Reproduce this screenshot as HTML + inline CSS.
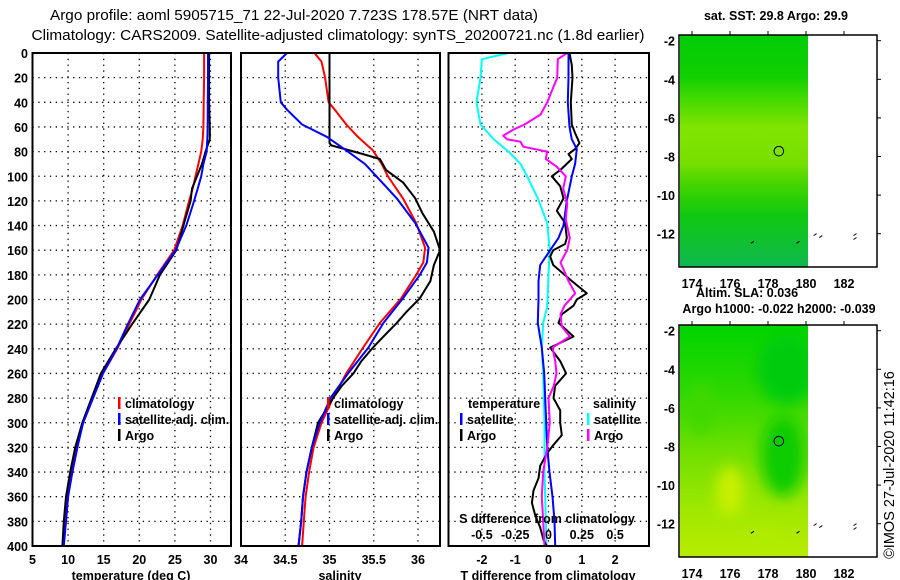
<!DOCTYPE html>
<html><head><meta charset="utf-8"><style>
html,body{margin:0;padding:0;background:#fff;}
svg{display:block;font-family:"Liberation Sans",sans-serif;}
.b{font-weight:bold;font-size:12.5px;}
.n{font-size:14.5px;}
</style></head><body>
<svg id="s" width="900" height="580" viewBox="0 0 900 580" xmlns="http://www.w3.org/2000/svg">
<defs>
<linearGradient id="g1" x1="0" y1="0" x2="0" y2="1">
<stop offset="0" stop-color="#00cc08"/><stop offset="0.18" stop-color="#10d000"/>
<stop offset="0.3" stop-color="#50dc00"/><stop offset="0.4" stop-color="#80e400"/>
<stop offset="0.55" stop-color="#78e000"/><stop offset="0.65" stop-color="#40d400"/>
<stop offset="0.78" stop-color="#10c810"/><stop offset="1" stop-color="#10b850"/>
</linearGradient>
<linearGradient id="g2" x1="0" y1="0" x2="0" y2="1">
<stop offset="0" stop-color="#00d400"/><stop offset="0.3" stop-color="#30d800"/>
<stop offset="0.55" stop-color="#70e000"/><stop offset="0.8" stop-color="#a0e800"/>
<stop offset="1" stop-color="#b8ec00"/>
</linearGradient>
<filter id="bl"><feGaussianBlur stdDeviation="7"/></filter>
<clipPath id="c1"><rect x="680" y="35" width="128" height="232"/></clipPath>
<clipPath id="c2"><rect x="680" y="325" width="128" height="232"/></clipPath>
</defs>
<g id="root"></g>
</svg>
<script>
// ---- data ----
const tDepth=[0,20,40,60,70,80,90,100,110,120,140,160,180,200,220,240,260,280,300,320,340,360,380,400];
const tClim=[29.1,29.1,29.05,29.0,28.9,28.7,28.3,27.9,27.5,27.0,26.1,24.9,22.5,20.3,18.6,16.9,14.9,13.5,12.1,11.2,10.5,9.9,9.6,9.3];
const tSat=[29.65,29.65,29.62,29.6,29.55,29.45,29.0,28.7,28.2,27.7,26.6,25.1,22.6,20.1,18.4,16.8,14.9,13.5,12.1,11.3,10.6,10.0,9.7,9.4];
const tArgo=[29.8,29.8,29.8,29.9,29.9,29.3,28.8,28.1,27.4,27.2,26.2,25.2,22.9,21.4,19.0,16.7,14.6,13.3,12.0,11.0,10.3,9.7,9.4,9.2];
const sDepth=[0,7,20,40,46,58,68,79,90,100,118,138,158,170,180,199,219,239,260,280,300,320,340,360,380,400];
const sClim=[34.83,34.91,34.95,34.99,35.06,35.19,35.32,35.49,35.59,35.66,35.83,35.98,36.08,36.06,35.98,35.81,35.57,35.38,35.19,35.04,34.91,34.82,34.77,34.73,34.71,34.69];
const sSat=[34.52,34.42,34.42,34.45,34.52,34.69,34.97,35.19,35.40,35.53,35.76,35.97,36.12,36.10,36.02,35.83,35.61,35.44,35.21,35.01,34.89,34.80,34.74,34.70,34.68,34.65];
const sArgoDepth=[0,73,75,82,86,95,105,118,130,145,160,172,185,199,210,219,230,239,250,260,270,280,300,320,340,360,380,400];
const sArgo=[35.0,35.0,35.02,35.38,35.57,35.64,35.83,35.97,36.05,36.18,36.25,36.18,36.14,36.02,35.87,35.76,35.61,35.49,35.36,35.27,35.14,35.04,34.87,34.80,34.74,34.70,34.68,34.65];
const dtSatDepth=[0,20,40,60,70,78,90,100,120,140,150,160,172,185,200,219,239,260,280,300,320,340,360,380,400];
const dtSat=[0.6,0.6,0.58,0.63,0.7,0.85,0.8,0.7,0.55,0.45,0.3,0.05,-0.25,-0.3,-0.3,-0.32,-0.2,-0.13,-0.1,-0.07,-0.04,0.03,0.12,0.18,0.2];
const dtArgoDepth=[0,10,20,40,58,65,73,78,82,86,95,100,108,118,128,138,150,155,160,165,172,185,195,200,205,212,219,230,239,250,260,270,280,290,300,310,318,325,335,345,355,365,375,385,395,400];
const dtArgo=[0.63,0.7,0.72,0.67,0.7,0.8,0.93,0.8,0.6,0.7,0.35,0.1,0.35,0.45,0.25,0.5,0.55,0.5,0.14,0.05,0.14,0.7,1.15,0.85,0.75,0.4,0.3,0.75,0.05,0.35,0.53,0.2,0.15,0.35,0.35,0.4,0.15,-0.05,-0.25,-0.3,-0.45,-0.5,-0.4,-0.25,-0.15,-0.05];
const dsSatDepth=[0,5,20,40,58,70,80,90,100,118,138,160,180,206,219,240,260,280,300,320,340,360,380,400];
const dsSat=[-0.3,-0.5,-0.51,-0.54,-0.51,-0.41,-0.3,-0.21,-0.16,-0.08,-0.01,0.01,0.0,-0.01,-0.04,-0.05,-0.04,-0.035,-0.03,-0.03,-0.03,-0.025,-0.02,-0.015];
const dsArgoDepth=[0,5,20,40,50,58,62,67,70,72,76,80,86,92,100,110,122,135,150,160,170,185,195,205,212,222,230,239,250,260,270,280,300,320,340,360,380,400];
const dsArgo=[0.14,0.07,0.065,-0.01,-0.06,-0.18,-0.26,-0.34,-0.31,-0.21,-0.19,-0.01,-0.02,0.06,0.13,0.11,0.14,0.13,0.16,0.14,0.09,0.15,0.2,0.12,0.09,0.1,0.16,0.03,0.05,0.06,0.04,0.0,0.01,-0.01,-0.04,-0.05,-0.04,-0.03];
const depthTicks=[0,20,40,60,80,100,120,140,160,180,200,220,240,260,280,300,320,340,360,380,400];
const tTicks=[5,10,15,20,25,30];
const sTicks=[34,34.5,35,35.5,36];
const dTicks=[-2,-1,0,1,2];
const dsTickLabels=["-0.5","-0.25","0","0.25","0.5"];
const lonTicks=[174,176,178,180,182];
const latTicks=[-2,-4,-6,-8,-10,-12];
const argoLon=178.57, argoLat=-7.723;

// ---- scales ----
const yD=d=>53+d*1.2325;
const xT=t=>32.5+(t-5)*7.12;
const xS=s=>241+(s-34)*88.5;
const xDT=t=>548.5+t*33.3;
const xDS=s=>548.5+s*133.3;
const mX=lon=>692+(lon-174)*19;
const mY=(lat,off)=>off+40.7+(-2-lat)*19.3;

const NS='http://www.w3.org/2000/svg';
const root=document.getElementById('root');
function mk(tag,attrs,parent){const e=document.createElementNS(NS,tag);for(const k in attrs)e.setAttribute(k,attrs[k]);(parent||root).appendChild(e);return e;}
function txt(x,y,s,anchor,cls,extra){const e=mk('text',Object.assign({x:x,y:y,'text-anchor':anchor||'start','class':cls||'b'},extra||{}));e.textContent=s;return e;}

const panels=[[32.5,231,'temperature-panel'],[241,440,'salinity-panel'],[448.5,649,'difference-panel']];
panels.forEach(p=>{
  const g=mk('g',{});
  
  
  depthTicks.forEach(d=>{ if(d>0&&d<400){const l=mk('line',{x1:p[0],x2:p[1],y1:yD(d),y2:yD(d),stroke:'#000','stroke-width':1.3,'stroke-dasharray':'1.3,4.5'},g);
    
    }});
});
function vgrid(vals,fx,y0,y1,name){vals.forEach(v=>{const x=fx(v);const l=mk('line',{x1:x,x2:x,y1:y0,y2:y1,stroke:'#000','stroke-width':1.3,'stroke-dasharray':'1.3,4.5'});
  
  });}
vgrid([10,15,20,25,30],xT,53,546,'temperature-gridline');
vgrid([34.5,35,35.5,36],xS,53,546,'salinity-gridline');
vgrid(dTicks,xDT,53,546,'difference-gridline');

function line(xs,ds,fx,color,name){
  const pts=xs.map((v,i)=>fx(v).toFixed(1)+','+yD(ds[i]).toFixed(1)).join(' ');
  const e=mk('polyline',{points:pts,fill:'none',stroke:color,'stroke-width':2,'stroke-linejoin':'round'});
  
  
}
line(tClim,tDepth,xT,'#f00','temp-climatology-line');
line(tArgo,tDepth,xT,'#000','temp-argo-line');
line(tSat,tDepth,xT,'#00f','temp-satellite-line');
line(sClim,sDepth,xS,'#f00','sal-climatology-line');
line(sArgo,sArgoDepth,xS,'#000','sal-argo-line');
line(sSat,sDepth,xS,'#00f','sal-satellite-line');
line(dsSat,dsSatDepth,xDS,'#0ff','sdiff-satellite-line');
line(dtArgo,dtArgoDepth,xDT,'#000','tdiff-argo-line');
line(dtSat,dtSatDepth,xDT,'#00f','tdiff-satellite-line');
line(dsArgo,dsArgoDepth,xDS,'#f0f','sdiff-argo-line');

panels.forEach(p=>{const r=mk('rect',{x:p[0],y:53,width:p[1]-p[0],height:493,fill:'none',stroke:'#000','stroke-width':2});
  
  });

depthTicks.forEach(d=>{const t=txt(28,yD(d)+5,String(d),'end');
  
  });
tTicks.forEach(v=>{const t=txt(xT(v),564,String(v),'middle');
  
  });
sTicks.forEach(v=>{const t=txt(xS(v),564,String(v),'middle');
  
  });
dTicks.forEach(v=>{const t=txt(xDT(v),564,String(v),'middle');
  
  });
dsTickLabels.forEach((v,i)=>{const t=txt(xDT(dTicks[i]),539,v,'middle');
  
  });
let t;
t=txt(547,523,'S difference from climatology','middle');


t=txt(131,580,'temperature (deg C)','middle');


t=txt(340,580,'salinity','middle');


t=txt(548,580,'T difference from climatology','middle');



t=txt(294,20,'Argo profile: aoml 5905715_71 22-Jul-2020 7.723S 178.57E (NRT data)','middle','n',{textLength:'488',lengthAdjust:'spacingAndGlyphs'});


t=txt(338,40,'Climatology: CARS2009. Satellite-adjusted climatology: synTS_20200721.nc (1.8d earlier)','middle','n',{textLength:'613',lengthAdjust:'spacingAndGlyphs'});



function leg(x,y,color,label,name){
  const r=mk('rect',{x:x,y:y-11,width:2.5,height:12,fill:color});
  
  
  const tt=txt(x+7,y,label,'start');
  
  
}
leg(118,408,'#f00','climatology','legend-climatology');
leg(118,424,'#00f','satellite-adj. clim.','legend-satellite-adj');
leg(118,440,'#000','Argo','legend-argo');
leg(327,408,'#f00','climatology','legend-sal-climatology');
leg(327,424,'#00f','satellite-adj. clim.','legend-sal-satellite-adj');
leg(327,440,'#000','Argo','legend-sal-argo');
t=txt(468,408,'temperature','start');


t=txt(593,408,'salinity','start');


leg(460,424,'#00f','satellite','legend-t-satellite');
leg(460,440,'#000','Argo','legend-t-argo');
leg(587,424,'#0ff','satellite','legend-s-satellite');
leg(587,440,'#f0f','Argo','legend-s-argo');

function map(off,grad,name){
  const g=mk('g',{});
  
  
  const r=mk('rect',{x:680,y:35+off,width:128,height:232,fill:'url(#'+grad+')'},g);
  
  
  return g;
}
const m1=map(0,'g1','sst-map');
const m2=map(290,'g2','sla-map');
const blobs=mk('g',{'clip-path':'url(#c2)',filter:'url(#bl)'},m2);
mk('ellipse',{cx:mX(179),cy:mY(-4,290),rx:30,ry:35,fill:'#00cc10'},blobs);
mk('ellipse',{cx:mX(178.8),cy:mY(-8.5,290),rx:22,ry:40,fill:'#10cc00'},blobs);
mk('ellipse',{cx:mX(176),cy:mY(-10.3,290),rx:14,ry:25,fill:'#c8f000'},blobs);
mk('ellipse',{cx:mX(174.5),cy:mY(-6,290),rx:12,ry:25,fill:'#40d800'},blobs);
mk('ellipse',{cx:mX(178),cy:mY(-12.8,290),rx:14,ry:12,fill:'#b0ec00'},blobs);
[[0,'sst-map'],[290,'sla-map']].forEach(([off,nm])=>{
  const f=mk('rect',{x:679,y:35+off,width:198,height:232,fill:'none',stroke:'#000','stroke-width':1.5});
  
  
  lonTicks.forEach(lon=>{
    mk('line',{x1:mX(lon),x2:mX(lon),y1:35+off,y2:31+off,stroke:'#000'});
    const l=txt(mX(lon),off+288,String(lon),'middle');
    
    
  });
  latTicks.forEach(lat=>{
    mk('line',{x1:877,x2:881,y1:mY(lat,off),y2:mY(lat,off),stroke:'#000'});
    const l=txt(675,mY(lat,off)+5,String(lat),'end');
    
    
  });
  const c=mk('circle',{cx:mX(argoLon),cy:mY(argoLat,off),r:4.8,fill:'none',stroke:'#000','stroke-width':1});
  
  
  [[180.4,-12.1],[180.7,-12.2],[182.5,-12.3],[182.5,-12.1],[179.5,-12.5],[177.1,-12.5]].forEach(p=>{
    mk('line',{x1:mX(p[0]),y1:mY(p[1],off),x2:mX(p[0])+3,y2:mY(p[1],off)-2,stroke:'#000'});
  });
});
t=txt(776,20,'sat. SST: 29.8 Argo: 29.9','middle');


t=txt(747,297,'Altim. SLA: 0.036','middle');


t=txt(779,313,'Argo h1000: -0.022 h2000: -0.039','middle');


t=txt(0,0,'©IMOS 27-Jul-2020 11:42:16','middle','n',{'font-size':'13',transform:'translate(894,465) rotate(-90)'});


</script>
</body></html>
